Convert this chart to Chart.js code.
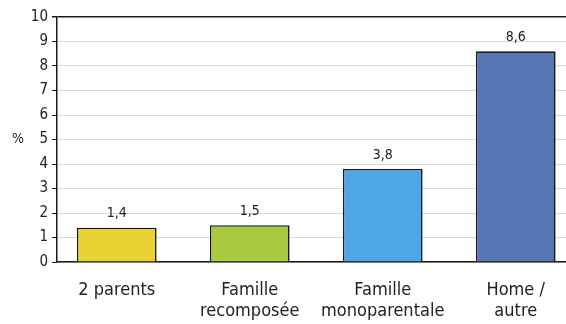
<!DOCTYPE html>
<html>
<head>
<meta charset="utf-8">
<script src="https://cdn.jsdelivr.net/npm/chart.js@4/dist/chart.umd.min.js"></script>
<style>
  html, body { margin: 0; padding: 0; background: #fff; overflow: hidden; }
  #wrap { width: 566px; height: 324px; position: relative; }
</style>
</head>
<body>
<div id="wrap"><canvas id="chart"></canvas></div>
<script>
// Données
const categories = [["2 parents"], ["Famille", "recomposée"], ["Famille", "monoparentale"], ["Home /", "autre"]];
const values = [1.4, 1.5, 3.8, 8.6];
const barColors = ["#e8d332", "#a9c93f", "#4ea7e4", "#5775b5"];
const yTicks = [0, 1, 2, 3, 4, 5, 6, 7, 8, 9, 10];

const FONT = "'Liberation Sans Narrow', 'DejaVu Sans Condensed', 'Open Sans', sans-serif";
const dark = "#1a1a1a";

// étiquettes de valeur au-dessus des barres + "%" à gauche
const labelsPlugin = {
  id: "labels",
  afterDatasetsDraw(chart) {
    const c = chart.ctx;
    const meta = chart.getDatasetMeta(0);
    c.save();
    c.fillStyle = "#222";
    c.font = "14px " + FONT;
    c.textAlign = "center";
    c.textBaseline = "bottom";
    meta.data.forEach((bar, i) => {
      c.fillText(values[i].toFixed(1).replace(".", ","), bar.x, bar.y - 7);
    });
    const y = chart.scales.y;
    c.textAlign = "center";
    c.textBaseline = "middle";
    c.fillText("%", 18, y.getPixelForValue(5));
    c.restore();
  },
};

const ctx = document.getElementById("chart").getContext("2d");
new Chart(ctx, {
  type: "bar",
  data: {
    datasets: [
      {
        data: values.map((v, i) => ({ x: i, y: v })),
        backgroundColor: barColors,
        borderColor: dark,
        borderWidth: 1.6,
        borderSkipped: "bottom",
        categoryPercentage: 1,
        barPercentage: 0.6,
      },
    ],
  },
  options: {
    responsive: true,
    maintainAspectRatio: false,
    animation: false,
    layout: { padding: { top: 17, right: 0, left: 0, bottom: 0 } },
    plugins: { legend: { display: false }, tooltip: { enabled: false } },
    scales: {
      x: {
        type: "linear",
        offset: false,
        min: -0.449,
        max: 3.378,
        afterBuildTicks: (scale) => {
          scale.ticks = categories.map((_, i) => ({ value: i }));
        },
        afterFit: (scale) => {
          scale.height = 62;
        },
        ticks: {
          autoSkip: false,
          maxRotation: 0,
          padding: 18,
          color: "#222",
          font: { family: FONT, size: 18, lineHeight: 1.15 },
          callback: (v) => categories[v],
        },
        grid: { display: false, drawTicks: false, offset: false },
        border: { display: true, color: dark, width: 1.5 },
      },
      y: {
        min: 0,
        max: 10,
        afterBuildTicks: (scale) => {
          scale.ticks = yTicks.map((v) => ({ value: v }));
        },
        afterFit: (scale) => {
          scale.width = 57;
        },
        ticks: {
          padding: 4,
          color: "#222",
          font: { family: FONT, size: 15 },
        },
        grid: {
          color: (c) => (c.tick && c.tick.value === 10 ? dark : "#d9d9d9"),
          lineWidth: (c) => (c.tick && c.tick.value === 10 ? 1.5 : 1),
          tickColor: dark,
          tickLength: 5,
        },
        border: { display: true, color: dark, width: 1.5 },
      },
    },
  },
  plugins: [labelsPlugin],
});
</script>
</body>
</html>
